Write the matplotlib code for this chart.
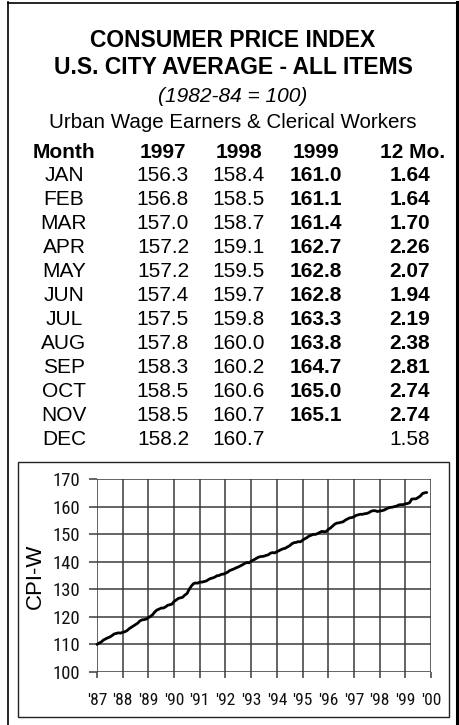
import matplotlib
matplotlib.use("Agg")
import matplotlib.pyplot as plt
from matplotlib.lines import Line2D
from matplotlib.patches import Rectangle
from matplotlib import font_manager
import numpy as np

plt.rcParams['font.family'] = ['Liberation Sans', 'DejaVu Sans']

# ---------------- data ----------------
months = ["JAN", "FEB", "MAR", "APR", "MAY", "JUN", "JUL", "AUG", "SEP", "OCT", "NOV", "DEC"]
cpi_1997 = [156.3, 156.8, 157.0, 157.2, 157.2, 157.4, 157.5, 157.8, 158.3, 158.5, 158.5, 158.2]
cpi_1998 = [158.4, 158.5, 158.7, 159.1, 159.5, 159.7, 159.8, 160.0, 160.2, 160.6, 160.7, 160.7]
cpi_1999 = [161.0, 161.1, 161.4, 162.7, 162.8, 162.8, 163.3, 163.8, 164.7, 165.0, 165.1]
chg_12mo = [1.64, 1.64, 1.70, 2.26, 2.07, 1.94, 2.19, 2.38, 2.81, 2.74, 2.74, 1.58]

# earlier monthly CPI-W values
cpi_1987 = [110.0, 110.5, 110.9, 111.6, 112.0, 112.4, 112.7, 113.2, 113.8, 114.0, 114.2, 114.1]
cpi_1988 = [114.4, 114.6, 115.0, 115.7, 116.2, 116.7, 117.2, 117.7, 118.5, 118.9, 119.0, 119.2]
cpi_1989 = [119.7, 120.2, 120.8, 121.8, 122.5, 122.8, 123.2, 123.2, 123.6, 124.2, 124.4, 124.6]
cpi_1990 = [125.6, 126.1, 126.7, 126.9, 127.1, 127.9, 128.4, 129.9, 131.1, 132.0, 132.3, 132.2]
cpi_1991 = [132.6, 132.6, 132.8, 133.0, 133.5, 133.9, 134.1, 134.4, 134.9, 135.0, 135.4, 135.5]
cpi_1992 = [135.8, 136.2, 136.8, 137.1, 137.4, 137.8, 138.1, 138.5, 138.9, 139.4, 139.7, 139.6]
cpi_1993 = [140.2, 140.6, 141.0, 141.5, 141.8, 141.9, 142.0, 142.3, 142.5, 143.1, 143.3, 143.2]
cpi_1994 = [143.6, 144.0, 144.4, 144.7, 144.9, 145.4, 145.8, 146.5, 146.9, 147.0, 147.3, 147.2]
cpi_1995 = [147.8, 148.3, 148.7, 149.3, 149.6, 149.9, 149.9, 150.2, 150.6, 151.0, 150.9, 150.9]
cpi_1996 = [151.7, 152.2, 152.9, 153.6, 154.0, 154.1, 154.3, 154.5, 155.1, 155.5, 155.9, 156.0]

years = list(range(1987, 2001))
year_labels = ["'87", "'88", "'89", "'90", "'91", "'92", "'93", "'94", "'95", "'96", "'97", "'98", "'99", "'00"]
y_ticks = [100, 110, 120, 130, 140, 150, 160, 170]

series = (cpi_1987 + cpi_1988 + cpi_1989 + cpi_1990 + cpi_1991 + cpi_1992 + cpi_1993 +
          cpi_1994 + cpi_1995 + cpi_1996 + cpi_1997 + cpi_1998 + cpi_1999)
t = 1987 + np.arange(len(series)) / 12.0

# pick a condensed face for the chart ticks if one is installed
tick_family, tick_size = 'Liberation Sans', 11.0
for cand in ['Liberation Sans Narrow', 'DejaVu Sans Condensed', 'Roboto Condensed',
             'Open Sans Condensed', 'Arial Narrow']:
    try:
        font_manager.findfont(font_manager.FontProperties(family=cand), fallback_to_default=False)
        tick_family, tick_size = cand, 12.6
        break
    except Exception:
        pass

# ---------------- figure ----------------
W, H = 460, 725
fig = plt.figure(figsize=(W / 100, H / 100), dpi=100)


def fx(x):
    return x / W


def fy(y):
    return 1 - y / H


# outer frame
fig.add_artist(Line2D([fx(8), fx(8)], [fy(2), fy(725)], color='black', lw=1.2))
fig.add_artist(Line2D([fx(8), fx(457)], [fy(3), fy(3)], color='black', lw=1.2))
fig.add_artist(Line2D([fx(457), fx(457)], [fy(2), fy(725)], color='black', lw=2.2))

# titles
fig.text(fx(233), fy(46.7), "CONSUMER PRICE INDEX", ha='center', va='baseline',
         fontsize=16.5, fontweight='bold')
fig.text(fx(233), fy(73.5), "U.S. CITY AVERAGE - ALL ITEMS", ha='center', va='baseline',
         fontsize=16.5, fontweight='bold')
fig.text(fx(233), fy(102), "(1982-84 = 100)", ha='center', va='baseline',
         fontsize=15, fontstyle='italic')
fig.text(fx(233), fy(128), "Urban Wage Earners & Clerical Workers", ha='center', va='baseline',
         fontsize=14.8)

# table
col_month, col_97, col_98, col_99, col_12 = 64, 163, 239, 316, 430
hdr_base = 157.5
fs = 15
fig.text(fx(col_month), fy(hdr_base), "Month", ha='center', va='baseline', fontsize=fs, fontweight='bold')
fig.text(fx(col_97), fy(hdr_base), "1997", ha='center', va='baseline', fontsize=fs, fontweight='bold')
fig.text(fx(col_98), fy(hdr_base), "1998", ha='center', va='baseline', fontsize=fs, fontweight='bold')
fig.text(fx(col_99), fy(hdr_base), "1999", ha='center', va='baseline', fontsize=fs, fontweight='bold')
fig.text(fx(445), fy(hdr_base), "12 Mo.", ha='right', va='baseline', fontsize=fs, fontweight='bold')

for i, m in enumerate(months):
    yb = 181 + 24.0 * i
    fig.text(fx(col_month), fy(yb), m, ha='center', va='baseline', fontsize=fs)
    fig.text(fx(col_97), fy(yb), f"{cpi_1997[i]:.1f}", ha='center', va='baseline', fontsize=fs)
    fig.text(fx(col_98), fy(yb), f"{cpi_1998[i]:.1f}", ha='center', va='baseline', fontsize=fs)
    if i < len(cpi_1999):
        fig.text(fx(col_99), fy(yb), f"{cpi_1999[i]:.1f}", ha='center', va='baseline',
                 fontsize=fs, fontweight='bold')
    fig.text(fx(col_12), fy(yb), f"{chg_12mo[i]:.2f}", ha='right', va='baseline', fontsize=fs,
             fontweight='bold' if i < len(cpi_1999) else 'normal')

# chart box
fig.add_artist(Rectangle((fx(18), fy(717)), fx(449) - fx(18), fy(462) - fy(717),
                         transform=fig.transFigure, fill=False, edgecolor='#222222', lw=1.0))

# plot
left, right, top, bottom = 97, 431, 479, 672
ax = fig.add_axes([fx(left), fy(bottom), fx(right) - fx(left), fy(top) - fy(bottom)])
ax.set_xlim(1987, 2000)
ax.set_ylim(100, 170)
grid_col = '#3a3a3a'
ax.set_xticks(years)
ax.set_xticklabels(year_labels)
ax.set_yticks(y_ticks)
ax.set_yticklabels([str(v) for v in y_ticks])
ax.grid(True, color=grid_col, lw=1.1)
ax.set_axisbelow(True)
for s in ax.spines.values():
    s.set_visible(False)
ax.tick_params(axis='x', length=4, width=1.1, color=grid_col, pad=11, labelsize=tick_size)
ax.tick_params(axis='y', length=6, width=1.1, color=grid_col, pad=6.5, labelsize=tick_size + 0.8)
for lab in ax.get_xticklabels() + ax.get_yticklabels():
    lab.set_family([tick_family, 'DejaVu Sans'])
    lab.set_color('#111111')

ax.plot(t, series, color='black', lw=2.0, solid_capstyle='round', clip_on=False)

fig.text(fx(35), fy(576), "CPI-W", rotation=90, ha='center', va='center', fontsize=16)

fig.savefig("out.png", dpi=100)
